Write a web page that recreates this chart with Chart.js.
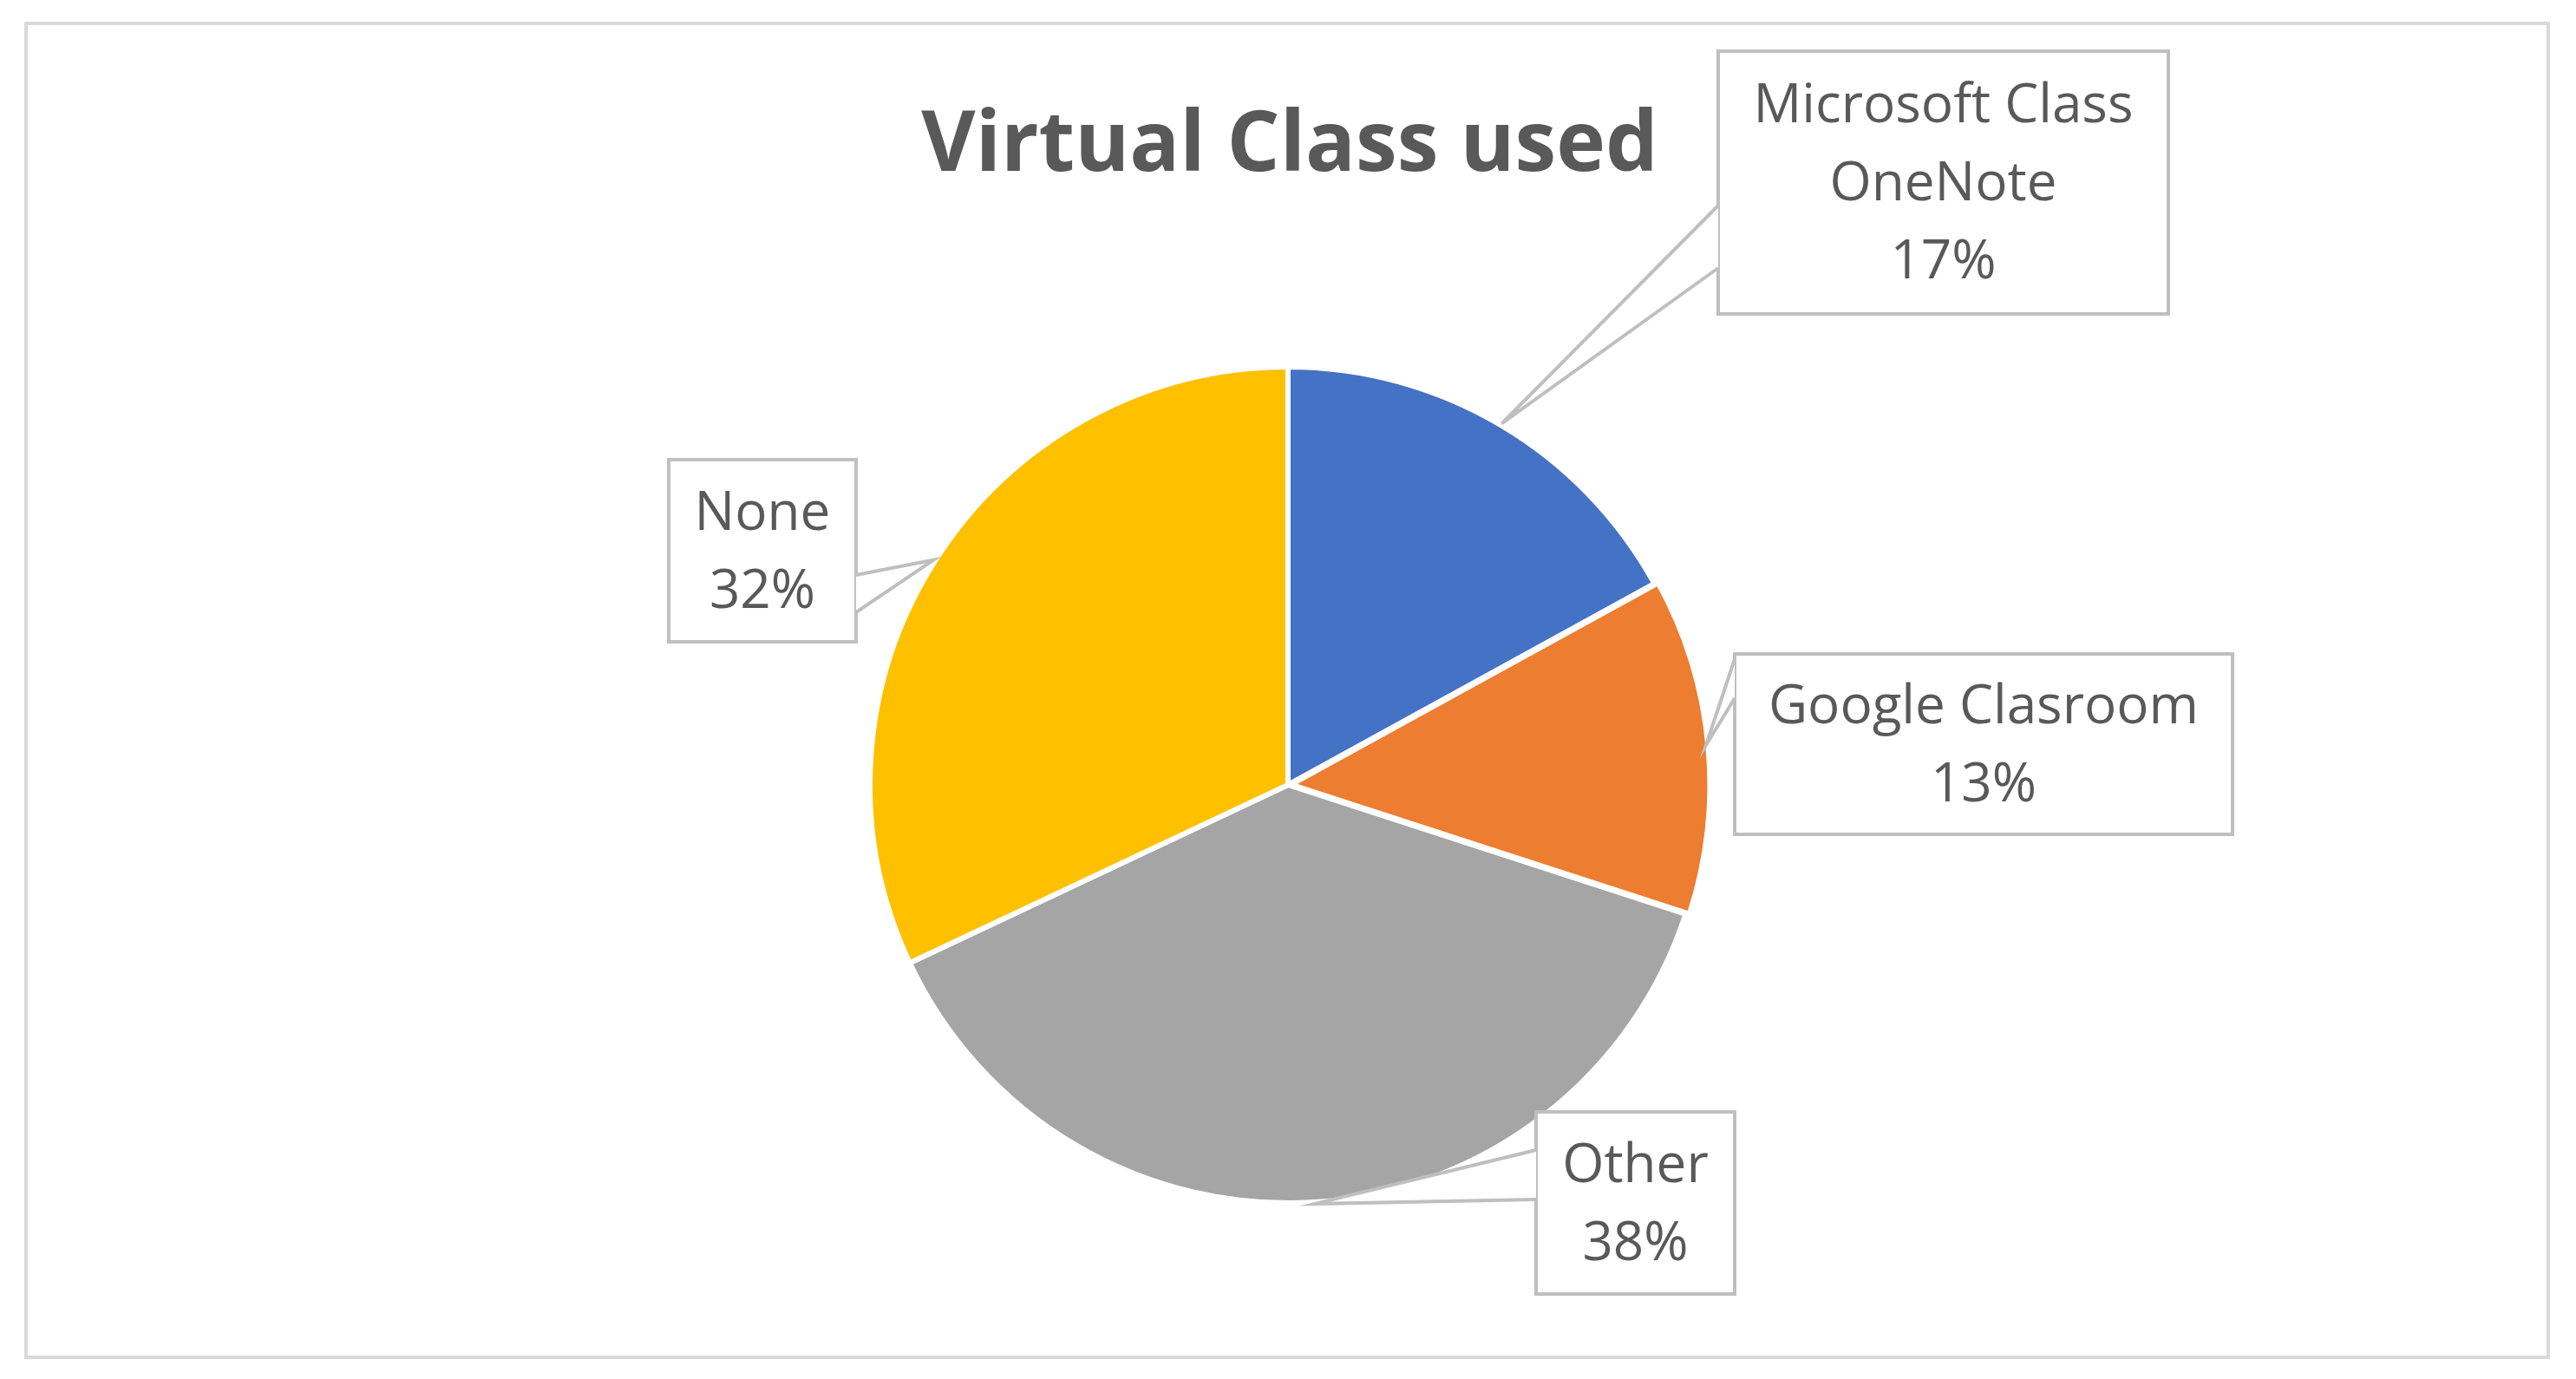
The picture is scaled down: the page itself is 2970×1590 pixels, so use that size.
<!DOCTYPE html>
<html><head><meta charset="utf-8">
<script src="https://cdn.jsdelivr.net/npm/chart.js@4/dist/chart.umd.min.js"></script>
<style>html,body{margin:0;padding:0;background:#fff}canvas{display:block}</style>
</head><body>
<canvas id="c" width="2970" height="1590" style="width:2970px;height:1590px"></canvas>
<script>
const categories = ["Microsoft Class OneNote", "Google Clasroom", "Other", "None"];
const values = [17, 13, 38, 32];
const labelLines = [["Microsoft Class","OneNote","17%"],["Google Clasroom","13%"],["Other","38%"],["None","32%"]];
const colors = ["#4472C4", "#ED7D31", "#A5A5A5", "#FFC000"];
const titleText = "Virtual Class used";

// callout box layout: [left, top, right, bottom, wedgeY1, wedgeY2, side]
const boxes = [
  [1981, 59, 2500, 362, 237, 309, 'L'],
  [2000, 754, 2574, 962, 760, 805, 'L'],
  [1771, 1282, 2000, 1492, 1326, 1383, 'L'],
  [771, 530, 987, 740, 663, 706, 'R']
];

const decor = {
  id: 'decor',
  beforeDraw(chart) {
    const ctx = chart.ctx;
    ctx.save();
    ctx.fillStyle = '#fff';
    ctx.fillRect(0, 0, chart.width, chart.height);
    ctx.strokeStyle = '#D9D9D9';
    ctx.lineWidth = 4;
    ctx.strokeRect(30, 27, 2908, 1538);
    ctx.restore();
  },
  afterDraw(chart) {
    const ctx = chart.ctx;
    ctx.save();
    ctx.fillStyle = '#595959';
    ctx.font = 'bold 96px "Open Sans", sans-serif';
    ctx.textAlign = 'center';
    ctx.textBaseline = 'middle';
    ctx.fillText(titleText, 1487, 170);
    const meta = chart.getDatasetMeta(0);
    meta.data.forEach((arc, i) => {
      const p = arc.getProps(['x','y','startAngle','endAngle','outerRadius'], true);
      const a = (p.startAngle + p.endAngle) / 2;
      const ax = p.x + Math.cos(a) * (p.outerRadius + 2);
      const ay = p.y + Math.sin(a) * (p.outerRadius + 2);
      const b = boxes[i];
      const bx = b[6] === 'L' ? b[0] : b[2];
      ctx.strokeStyle = '#BFBFBF';
      ctx.lineWidth = 4;
      ctx.fillStyle = '#fff';
      ctx.fillRect(b[0], b[1], b[2]-b[0], b[3]-b[1]);
      ctx.strokeRect(b[0], b[1], b[2]-b[0], b[3]-b[1]);
      ctx.beginPath();
      ctx.moveTo(bx, b[4]);
      ctx.lineTo(ax, ay);
      ctx.lineTo(bx, b[5]);
      ctx.closePath();
      ctx.fill();
      ctx.beginPath();
      ctx.moveTo(bx, b[4]); ctx.lineTo(ax, ay); ctx.lineTo(bx, b[5]);
      ctx.stroke();
      ctx.fillStyle = '#595959';
      ctx.font = '62px "Open Sans", sans-serif';
      const lines = labelLines[i];
      const cx = (b[0]+b[2])/2, cy = (b[1]+b[3])/2 + 3;
      const lh = 90;
      lines.forEach((t, k) => {
        ctx.fillText(t, cx, cy + (k - (lines.length-1)/2) * lh);
      });
    });
    ctx.restore();
  }
};

new Chart(document.getElementById('c'), {
  type: 'pie',
  data: {
    labels: categories,
    datasets: [{ data: values, backgroundColor: colors, borderColor: '#fff', borderWidth: 6, offset: [0, 14, 0, 0] }]
  },
  options: {
    responsive: false,
    animation: false,
    devicePixelRatio: 1,
    layout: { padding: { top: 413, bottom: 193, left: 0, right: 0 } },
    plugins: { legend: { display: false }, tooltip: { enabled: false }, title: { display: false } }
  },
  plugins: [decor]
});
</script>
</body></html>
